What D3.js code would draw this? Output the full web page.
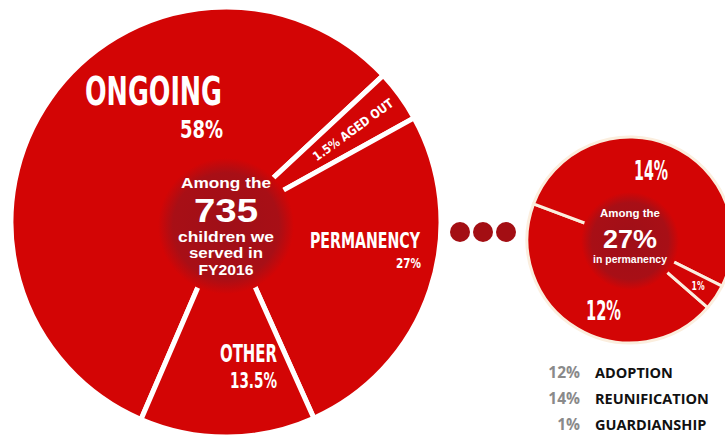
<!DOCTYPE html>
<html>
<head>
<meta charset="utf-8">
<script src="https://cdn.jsdelivr.net/npm/d3@7"></script>
<style>
  body { margin: 0; background: #fff; }
  svg { display: block; }
</style>
</head>
<body>
<div id="chart"></div>
<script>
// outcomes of the children served (big pie)
const outcomeCategories = ["ONGOING", "AGED OUT", "PERMANENCY", "OTHER"];
const outcomeValues = [58, 1.5, 27, 13.5];
const outcomeLabels = ["58%", "1.5%", "27%", "13.5%"];

// breakdown of the ones in permanency (small pie)
const permCategories = ["ADOPTION", "REUNIFICATION", "GUARDIANSHIP"];
const permValues = [12, 14, 1];
const permLabels = ["12%", "14%", "1%"];

const totalServed = 735;
const fiscalYear = "FY2016";

const sirina = 725, visina = 442;
const red = "#d30505";
const darkRed = "#a30e13";
const condensed = "'Liberation Sans Narrow','DejaVu Sans Condensed','Roboto Condensed',sans-serif";
const sans = "'Open Sans','Noto Sans',sans-serif";
const tight = "'Liberation Sans',Arial,sans-serif";
const rad = deg => deg * Math.PI / 180;

// very small slices get a minimum share so the label still fits
const minShare = 0.04;
function napraviPie(values, startDeg) {
    const total = d3.sum(values);
    return d3.pie()
        .sort(null)
        .value(d => Math.max(d, total * minShare))
        .startAngle(rad(startDeg))
        .endAngle(rad(startDeg + 360))(values);
}

const svg = d3.select("#chart")
    .append("svg")
    .attr("width", sirina)
    .attr("height", visina);

const defs = svg.append("defs");
const grad = defs.append("radialGradient").attr("id", "tamno");
grad.append("stop").attr("offset", "0%").attr("stop-color", "#9f0f18");
grad.append("stop").attr("offset", "78%").attr("stop-color", "#a80f16");
grad.append("stop").attr("offset", "100%").attr("stop-color", red);

// ---------- big pie ----------
const veliki = { x: 226, y: 222, r: 215, inner: 68 };
const g1 = svg.append("g").attr("transform", `translate(${veliki.x},${veliki.y})`);

// ongoing first, so that aged out starts at ~47deg
const prikaz = outcomeValues.map(v => Math.max(v, d3.sum(outcomeValues) * minShare));
const ongoingShare = prikaz[0] / d3.sum(prikaz) * 360;
const bigArcs = napraviPie(outcomeValues, 47 - ongoingShare);

const arc1 = d3.arc().innerRadius(0).outerRadius(veliki.r);

g1.selectAll("path.slice")
    .data(bigArcs)
    .enter()
    .append("path")
    .attr("class", "slice")
    .attr("d", arc1)
    .attr("fill", red)
    .attr("stroke", "#fff")
    .attr("stroke-width", 5)
    .attr("stroke-linejoin", "miter");

g1.append("circle")
    .attr("r", veliki.inner)
    .attr("cy", 4)
    .attr("fill", "url(#tamno)");

// labels, offsets from pie centre: [x, y, size, width]
const bigLabelPos = {
    "ONGOING":    { name: [-4, -117, 39, 137], pct: [-3, -84, 24, 43] },
    "PERMANENCY": { name: [194, 26, 22, 110], pct: [195, 46, 14, 25] },
    "OTHER":      { name: [51, 140, 24, 57], pct: [51, 166, 22, 47] }
};

function condText(g, txt, p, anchor) {
    g.append("text")
        .attr("x", p[0])
        .attr("y", p[1])
        .attr("text-anchor", anchor || "end")
        .attr("font-family", condensed)
        .attr("font-weight", "bold")
        .attr("font-size", p[2])
        .attr("textLength", p[3])
        .attr("lengthAdjust", "spacingAndGlyphs")
        .attr("fill", "#fff")
        .text(txt);
}

outcomeCategories.forEach((c, i) => {
    const pos = bigLabelPos[c];
    if (pos) {
        condText(g1, c, pos.name);
        condText(g1, outcomeLabels[i], pos.pct);
    }
});

// aged out: along the slice
const aged = bigArcs[1];
const mid = (aged.startAngle + aged.endAngle) / 2;
const lr = 157;
g1.append("text")
    .attr("transform", `translate(${lr * Math.sin(mid)},${-lr * Math.cos(mid)}) rotate(${mid * 180 / Math.PI - 90})`)
    .attr("text-anchor", "middle")
    .attr("dy", "0.36em")
    .attr("font-family", condensed)
    .attr("font-weight", "bold")
    .attr("font-size", 12.5)
    .attr("textLength", 96)
    .attr("lengthAdjust", "spacingAndGlyphs")
    .attr("fill", "#fff")
    .text(outcomeLabels[1] + " " + outcomeCategories[1]);

// centre text
const centar1 = [
    { t: "Among the", y: -34, s: 14.5, w: 90 },
    { t: String(totalServed), y: 0, s: 34, w: 64 },
    { t: "children we", y: 20, s: 14.5, w: 96 },
    { t: "served in", y: 36, s: 14.5, w: 74 },
    { t: fiscalYear, y: 53, s: 14.5, w: 55 }
];
g1.selectAll("text.centar")
    .data(centar1)
    .enter()
    .append("text")
    .attr("class", "centar")
    .attr("x", 0)
    .attr("y", d => d.y)
    .attr("text-anchor", "middle")
    .attr("font-family", tight)
    .attr("font-weight", "bold")
    .attr("font-size", d => d.s)
    .attr("textLength", d => d.w)
    .attr("lengthAdjust", "spacingAndGlyphs")
    .attr("fill", "#fff")
    .text(d => d.t);

// ---------- dots ----------
svg.selectAll("circle.dot")
    .data(d3.range(3))
    .enter()
    .append("circle")
    .attr("class", "dot")
    .attr("cx", d => 460 + d * 23)
    .attr("cy", 232)
    .attr("r", 10)
    .attr("fill", darkRed);

// ---------- small pie ----------
const mali = { x: 630, y: 240, r: 103, inner: 49 };
const g2 = svg.append("g").attr("transform", `translate(${mali.x},${mali.y})`);
const smallArcs = napraviPie(permValues, 131);
const arc2 = d3.arc().innerRadius(0).outerRadius(mali.r);

g2.selectAll("path.slice")
    .data(smallArcs)
    .enter()
    .append("path")
    .attr("class", "slice")
    .attr("d", arc2)
    .attr("fill", red)
    .attr("stroke", "#fbeede")
    .attr("stroke-width", 3);

g2.append("circle")
    .attr("r", mali.inner)
    .attr("cy", 1)
    .attr("fill", "url(#tamno)");

const smallLabelPos = {
    "ADOPTION":      [-9, 80, 26, 35],
    "REUNIFICATION": [38, -60, 26, 34]
};
permCategories.forEach((c, i) => {
    if (smallLabelPos[c]) condText(g2, permLabels[i], smallLabelPos[c]);
});
// tiny guardianship slice: label at its middle
const gs = smallArcs[2];
const gm = (gs.startAngle + gs.endAngle) / 2;
condText(g2, permLabels[2], [82 * Math.sin(gm), -82 * Math.cos(gm) + 4, 12, 13], "middle");

const centar2 = [
    { t: "Among the", y: -23, s: 11, w: 60 },
    { t: "27%", y: 8, s: 26, w: 54 },
    { t: "in permanency", y: 23, s: 11, w: 74 }
];
g2.selectAll("text.centar")
    .data(centar2)
    .enter()
    .append("text")
    .attr("class", "centar")
    .attr("x", 0)
    .attr("y", d => d.y)
    .attr("text-anchor", "middle")
    .attr("font-family", tight)
    .attr("font-weight", "bold")
    .attr("font-size", d => d.s)
    .attr("textLength", d => d.w)
    .attr("lengthAdjust", "spacingAndGlyphs")
    .attr("fill", "#fff")
    .text(d => d.t);

// ---------- legend ----------
const legenda = svg.selectAll("g.legenda")
    .data(permCategories)
    .enter()
    .append("g")
    .attr("class", "legenda")
    .attr("transform", (d, i) => `translate(0,${378 + i * 26})`);

legenda.append("text")
    .attr("x", 580)
    .attr("text-anchor", "end")
    .attr("font-family", sans)
    .attr("font-weight", "bold")
    .attr("font-size", 15.5)
    .attr("fill", "#8a8a8a")
    .text((d, i) => permLabels[i]);

legenda.append("text")
    .attr("x", 595)
    .attr("font-family", sans)
    .attr("font-weight", "bold")
    .attr("font-size", 14.5)
    .attr("fill", "#111")
    .text(d => d);
</script>
</body>
</html>
